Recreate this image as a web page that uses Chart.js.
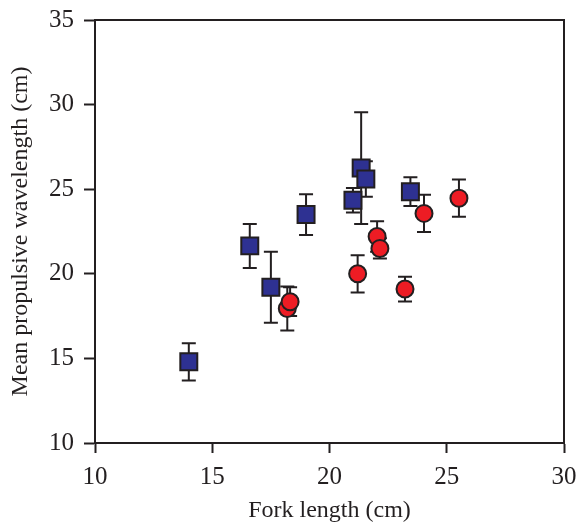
<!DOCTYPE html>
<html><head><meta charset="utf-8">
<script src="https://cdn.jsdelivr.net/npm/chart.js@4/dist/chart.umd.min.js"></script>
<style>html,body{margin:0;padding:0;background:#fff}#wrap{width:578px;height:523px}</style>
</head><body><div id="wrap"><canvas id="c" width="578" height="523"></canvas></div>
<script>
const xTicks = [10, 15, 20, 25, 30];
const yTicks = [10, 15, 20, 25, 30, 35];
const blueX = [14.0, 16.6, 17.5, 19.0, 21.0, 21.35, 21.55, 23.45];
const blueY = [14.8, 21.65, 19.2, 23.5, 24.35, 26.25, 25.6, 24.85];
const blueErr = [1.1, 1.3, 2.1, 1.2, 0.72, 3.3, 1.05, 0.85];
const redX = [18.2, 18.32, 21.2, 22.03, 22.15, 23.22, 24.03, 25.52];
const redY = [17.95, 18.35, 20.0, 22.2, 21.5, 19.1, 23.57, 24.47];
const redErr = [1.3, 0.85, 1.1, 0.9, 0.6, 0.73, 1.1, 1.1];
const xTitle = 'Fork length (cm)';
const yTitle = 'Mean propulsive wavelength (cm)';

const INK = '#231f20';
const FONT = "'Liberation Serif', 'Times New Roman', serif";

function pts(xs, ys) { return xs.map((x, i) => ({ x: x, y: ys[i] })); }

const errPlugin = {
  id: 'errbars',
  beforeDatasetsDraw(chart) {
    const ctx = chart.ctx, xs = chart.scales.x, ys = chart.scales.y;
    ctx.save();
    ctx.strokeStyle = INK;
    ctx.lineWidth = 2;
    chart.data.datasets.forEach(ds => {
      ds.data.forEach((p, i) => {
        const e = ds.err[i];
        const px = xs.getPixelForValue(p.x);
        const top = ys.getPixelForValue(p.y + e);
        const bot = ys.getPixelForValue(p.y - e);
        ctx.beginPath();
        ctx.moveTo(px, top); ctx.lineTo(px, bot);
        ctx.moveTo(px - 7, top); ctx.lineTo(px + 7, top);
        ctx.moveTo(px - 7, bot); ctx.lineTo(px + 7, bot);
        ctx.stroke();
      });
    });
    ctx.restore();
  },
  afterDraw(chart) {
    const ctx = chart.ctx, a = chart.chartArea;
    ctx.save();
    ctx.strokeStyle = INK;
    ctx.lineWidth = 2;
    ctx.beginPath();
    ctx.moveTo(a.left, a.top); ctx.lineTo(a.right, a.top); ctx.lineTo(a.right, a.bottom);
    ctx.stroke();
    ctx.restore();
  }
};

new Chart(document.getElementById('c'), {
  type: 'scatter',
  data: {
    datasets: [
      { label: 'red', data: pts(redX, redY), err: redErr, pointStyle: 'circle', pointRadius: 8.5,
        backgroundColor: '#ed1c24', borderColor: INK, borderWidth: 2 },
      { label: 'blue', data: pts(blueX, blueY), err: blueErr, pointStyle: 'rect', pointRadius: 12,
        backgroundColor: '#2e3192', borderColor: INK, borderWidth: 2 }
    ]
  },
  options: {
    responsive: false,
    animation: false,
    devicePixelRatio: 1,
    layout: { padding: { left: 0, right: 14, top: 20, bottom: 0 } },
    plugins: { legend: { display: false }, tooltip: { enabled: false } },
    scales: {
      x: {
        type: 'linear', min: 10, max: 30,
        afterBuildTicks: s => { s.ticks = xTicks.map(v => ({ value: v })); },
        afterFit: s => { s.height = 80; s.paddingLeft = 0; s.paddingRight = 0; },
        grid: { drawOnChartArea: false, drawTicks: true, tickLength: 10, tickWidth: 2, tickColor: INK },
        border: { display: true, width: 2, color: INK },
        ticks: { color: INK, font: { family: FONT, size: 25 }, padding: 9, maxRotation: 0 },
        title: { display: true, text: xTitle, color: INK, font: { family: FONT, size: 24, lineHeight: 1.0 },
                 padding: { top: 0, bottom: 0 } }
      },
      y: {
        type: 'linear', min: 10, max: 35,
        afterBuildTicks: s => { s.ticks = yTicks.map(v => ({ value: v })); },
        afterFit: s => { s.width = 95; s.paddingTop = 0; s.paddingBottom = 0; },
        grid: { drawOnChartArea: false, drawTicks: true, tickLength: 11, tickWidth: 2, tickColor: INK },
        border: { display: true, width: 2, color: INK },
        ticks: { color: INK, font: { family: FONT, size: 25 }, padding: 10 },
        title: { display: true, text: yTitle, color: INK, font: { family: FONT, size: 24, lineHeight: 1.0 },
                 padding: { top: 9, bottom: 0 } }
      }
    }
  },
  plugins: [errPlugin]
});
</script>
</body></html>
